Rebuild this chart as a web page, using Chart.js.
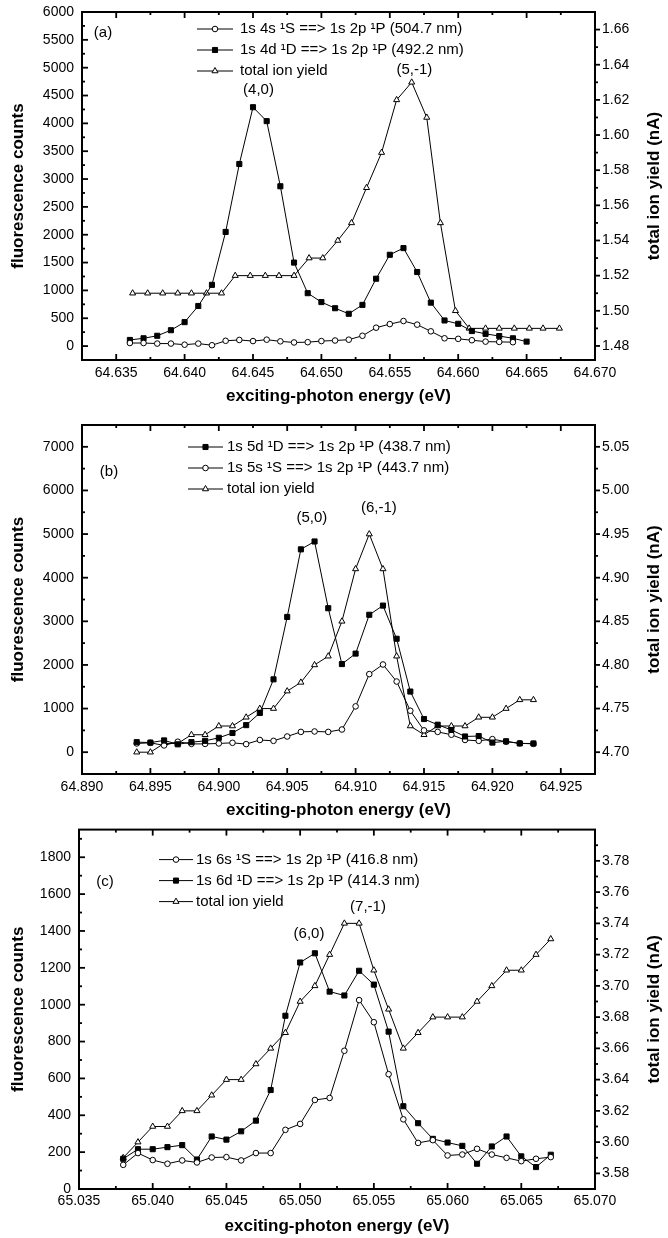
<!DOCTYPE html>
<html>
<head>
<meta charset="utf-8">
<title>Fluorescence counts and total ion yield</title>
<script src="https://cdn.jsdelivr.net/npm/chart.js@4.4.1/dist/chart.umd.min.js"></script>
<style>
  html, body { margin: 0; padding: 0; background: #ffffff; }
  body { width: 668px; height: 1238px; position: relative; overflow: hidden; }
  .panel { position: absolute; left: 0; width: 668px; }
</style>
</head>
<body>
<div class="panel" style="top:0px;height:410px"><canvas id="chartA"></canvas></div>
<div class="panel" style="top:410px;height:415px"><canvas id="chartB"></canvas></div>
<div class="panel" style="top:825px;height:413px"><canvas id="chartC"></canvas></div>
<script>
// ---------- panel (a) ----------
const energyA4s = [64.636, 64.637, 64.638, 64.639, 64.640, 64.641, 64.642, 64.643, 64.644, 64.645,
                   64.646, 64.647, 64.648, 64.649, 64.650, 64.651, 64.652, 64.653, 64.654, 64.655,
                   64.656, 64.657, 64.658, 64.659, 64.660, 64.661, 64.662, 64.663, 64.664];
const counts4s  = [55, 55, 45, 45, 25, 45, 15, 95, 110, 90,
                   115, 85, 65, 70, 90, 100, 115, 185, 330, 395,
                   450, 385, 265, 140, 130, 105, 80, 75, 70];
const energyA4d = [64.636, 64.637, 64.638, 64.639, 64.640, 64.641, 64.642, 64.643, 64.644, 64.645,
                   64.646, 64.647, 64.648, 64.649, 64.650, 64.651, 64.652, 64.653, 64.654, 64.655,
                   64.656, 64.657, 64.658, 64.659, 64.660, 64.661, 64.662, 64.663, 64.664, 64.665];
const counts4d  = [110, 140, 185, 285, 430, 720, 1100, 2050, 3270, 4290,
                   4040, 2870, 1500, 950, 790, 680, 580, 740, 1210, 1640,
                   1760, 1330, 780, 460, 400, 270, 220, 180, 140, 80];
const energyAIon = [64.6362, 64.6373, 64.6384, 64.6395, 64.6405, 64.6416, 64.6427, 64.6437, 64.6448, 64.6459,
                    64.6469, 64.6480, 64.6491, 64.6501, 64.6512, 64.6522, 64.6533, 64.6544, 64.6555, 64.6566,
                    64.6577, 64.6587, 64.6598, 64.6608, 64.6620, 64.6630, 64.6641, 64.6652, 64.6662, 64.6674];
const ionA = [1.51, 1.51, 1.51, 1.51, 1.51, 1.51, 1.51, 1.52, 1.52, 1.52,
              1.52, 1.52, 1.53, 1.53, 1.54, 1.55, 1.57, 1.59, 1.62, 1.63,
              1.61, 1.55, 1.50, 1.49, 1.49, 1.49, 1.49, 1.49, 1.49, 1.49];
const xTicksA  = [64.635, 64.640, 64.645, 64.650, 64.655, 64.660, 64.665, 64.670];
const yTicksA  = [0, 500, 1000, 1500, 2000, 2500, 3000, 3500, 4000, 4500, 5000, 5500, 6000];
const y2TicksA = [1.48, 1.50, 1.52, 1.54, 1.56, 1.58, 1.60, 1.62, 1.64, 1.66];

// ---------- panel (b) ----------
const energyB = [64.894, 64.895, 64.896, 64.897, 64.898, 64.899, 64.900, 64.901, 64.902, 64.903,
                 64.904, 64.905, 64.906, 64.907, 64.908, 64.909, 64.910, 64.911, 64.912, 64.913,
                 64.914, 64.915, 64.916, 64.917, 64.918, 64.919, 64.920, 64.921, 64.922, 64.923];
const counts5d = [230, 220, 270, 180, 230, 260, 330, 440, 620, 900,
                  1670, 3100, 4650, 4830, 3300, 2020, 2260, 3150, 3360, 2600,
                  1390, 760, 630, 510, 360, 370, 220, 250, 200, 200];
const counts5s = [200, 215, 155, 240, 190, 190, 200, 215, 185, 280,
                  260, 360, 465, 475, 465, 520, 1050, 1790, 2010, 1620,
                  950, 500, 465, 400, 280, 260, 300, 240, 205, 190];
const ionB = [4.70, 4.70, 4.71, 4.71, 4.72, 4.72, 4.73, 4.73, 4.74, 4.75,
              4.75, 4.77, 4.78, 4.80, 4.81, 4.85, 4.91, 4.95, 4.91, 4.81,
              4.73, 4.72, 4.73, 4.73, 4.73, 4.74, 4.74, 4.75, 4.76, 4.76];
const xTicksB  = [64.890, 64.895, 64.900, 64.905, 64.910, 64.915, 64.920, 64.925];
const yTicksB  = [0, 1000, 2000, 3000, 4000, 5000, 6000, 7000];
const y2TicksB = [4.70, 4.75, 4.80, 4.85, 4.90, 4.95, 5.00, 5.05];

// ---------- panel (c) ----------
const energyC = [65.038, 65.039, 65.040, 65.041, 65.042, 65.043, 65.044, 65.045, 65.046, 65.047,
                 65.048, 65.049, 65.050, 65.051, 65.052, 65.053, 65.054, 65.055, 65.056, 65.057,
                 65.058, 65.059, 65.060, 65.061, 65.062, 65.063, 65.064, 65.065, 65.066, 65.067];
const counts6s = [131, 195, 157, 137, 155, 144, 171, 173, 155, 195,
                  195, 321, 353, 483, 494, 750, 1025, 905, 623, 378,
                  250, 265, 182, 187, 218, 187, 169, 151, 164, 173];
const counts6d = [164, 216, 216, 227, 238, 160, 285, 268, 313, 371,
                  537, 940, 1229, 1279, 1071, 1050, 1184, 1109, 854, 449,
                  357, 272, 252, 234, 137, 231, 285, 177, 119, 186];
const ionC = [3.59, 3.60, 3.61, 3.61, 3.62, 3.62, 3.63, 3.64, 3.64, 3.65,
              3.66, 3.67, 3.69, 3.70, 3.72, 3.74, 3.74, 3.71, 3.685, 3.66,
              3.67, 3.68, 3.68, 3.68, 3.69, 3.70, 3.71, 3.71, 3.72, 3.73];
const xTicksC  = [65.035, 65.040, 65.045, 65.050, 65.055, 65.060, 65.065, 65.070];
const yTicksC  = [0, 200, 400, 600, 800, 1000, 1200, 1400, 1600, 1800];
const y2TicksC = [3.58, 3.60, 3.62, 3.64, 3.66, 3.68, 3.70, 3.72, 3.74, 3.76, 3.78];

const FONT = "'Liberation Sans', Arial, Helvetica, sans-serif";
Chart.defaults.font.family = FONT;
Chart.defaults.color = '#000';

// marker looks (Origin style)
const openCircle = { style: 'circle', radius: 2.8, fill: '#ffffff' };
const solidSquare = { style: 'rect', radius: 3.6, fill: '#000000' };
const openTriangle = { style: 'triangle', radius: 3.5, fill: '#ffffff' };

// minor ticks sit half way between the labelled ones
function minorTicks(majors, min, max) {
    const half = (majors[1] - majors[0]) / 2;
    const out = [];
    majors.forEach(v => {
        [v - half, v + half].forEach(m => {
            const inside = m > min + half / 20 && m < max - half / 20;
            if (inside && !out.some(o => Math.abs(o - m) < half / 10)) out.push(m);
        });
    });
    return out;
}

// draws the box, inward ticks, legend, peak labels and right title
function framePlugin(p) {
    return {
        id: 'originFrame',
        afterDraw(chart) {
            const { ctx, chartArea: a, scales } = chart;
            const sx = scales.x, sy = scales.y, sy2 = scales.y2;
            const line = (x1, y1, x2, y2) => { ctx.beginPath(); ctx.moveTo(x1, y1); ctx.lineTo(x2, y2); ctx.stroke(); };
            ctx.save();
            ctx.strokeStyle = '#000';
            ctx.fillStyle = '#000';
            ctx.lineWidth = 2;
            ctx.strokeRect(a.left, a.top, a.right - a.left, a.bottom - a.top);

            ctx.lineWidth = 1.8;
            p.xTicks.forEach(v => {
                const px = sx.getPixelForValue(v);
                line(px, a.bottom, px, a.bottom - 6);
                line(px, a.top, px, a.top + 6);
            });
            minorTicks(p.xTicks, sx.min, sx.max).forEach(v => {
                const px = sx.getPixelForValue(v);
                line(px, a.bottom, px, a.bottom - 3);
                line(px, a.top, px, a.top + 3);
            });
            p.yTicks.forEach(v => { const py = sy.getPixelForValue(v); line(a.left, py, a.left + 6, py); });
            minorTicks(p.yTicks, sy.min, sy.max).forEach(v => { const py = sy.getPixelForValue(v); line(a.left, py, a.left + 3, py); });
            p.y2Ticks.forEach(v => { const py = sy2.getPixelForValue(v); line(a.right, py, a.right + 5, py); });
            minorTicks(p.y2Ticks, sy2.min, sy2.max).forEach(v => { const py = sy2.getPixelForValue(v); line(a.right, py, a.right + 3, py); });

            // legend: line with marker, then the label
            ctx.font = '15px ' + FONT;
            ctx.textAlign = 'left';
            ctx.textBaseline = 'middle';
            chart.data.datasets.forEach((d, i) => {
                const y = a.top + p.legend.rows[i];
                const x0 = a.left + p.legend.line[0];
                const x1 = a.left + p.legend.line[1];
                ctx.lineWidth = 1;
                line(x0, y, x1, y);
                ctx.fillStyle = d.pointBackgroundColor;
                Chart.helpers.drawPoint(ctx, { pointStyle: d.pointStyle, radius: d.pointRadius, rotation: 0, borderWidth: 1 }, (x0 + x1) / 2, y);
                ctx.fillStyle = '#000';
                ctx.fillText(d.label, a.left + p.legend.text, y);
            });

            // peak labels, placed in data units
            ctx.font = '15px ' + FONT;
            ctx.textAlign = 'center';
            p.notes.forEach(n => ctx.fillText(n.text, sx.getPixelForValue(n.x), sy.getPixelForValue(n.y)));
            ctx.fillText(p.letter.text, a.left + p.letter.dx, a.top + p.letter.dy);

            // right axis title reads bottom to top
            ctx.translate(a.right + 59, (a.top + a.bottom) / 2);
            ctx.rotate(-Math.PI / 2);
            ctx.font = 'bold 17px ' + FONT;
            ctx.fillText(sy2.options.title.text, 0, 0);
            ctx.restore();
        }
    };
}

function makePanel(id, p) {
    const datasets = p.series.map(s => ({
        label: s.label,
        data: s.x.map((x, i) => ({ x: x, y: s.y[i] })),
        yAxisID: s.axis,
        borderColor: '#000',
        borderWidth: 1,
        pointStyle: s.marker.style,
        pointRadius: s.marker.radius,
        pointHoverRadius: s.marker.radius,
        pointBackgroundColor: s.marker.fill,
        pointBorderColor: '#000',
        pointBorderWidth: 1,
        fill: false,
        tension: 0
    }));
    const hideGrid = { display: false, drawTicks: false };
    const tickFont = { size: 14 };
    const titleFont = { size: 17, weight: 'bold' };
    return new Chart(document.getElementById(id), {
        type: 'line',
        data: { datasets: datasets },
        options: {
            responsive: true,
            maintainAspectRatio: false,
            animation: false,
            devicePixelRatio: 1,
            layout: { padding: { top: p.padTop, left: 0, right: 0, bottom: 0 } },
            plugins: { legend: { display: false }, tooltip: { enabled: false } },
            scales: {
                x: {
                    type: 'linear',
                    position: 'bottom',
                    min: p.xRange[0],
                    max: p.xRange[1],
                    afterBuildTicks: s => { s.ticks = p.xTicks.map(v => ({ value: v })); },
                    afterFit: s => { s.height = p.xHeight; s.paddingLeft = 0; s.paddingRight = 0; },
                    grid: hideGrid,
                    border: { display: false },
                    ticks: { padding: p.labelPad, maxRotation: 0, autoSkip: false, font: tickFont, callback: v => v.toFixed(3) },
                    title: { display: true, text: 'exciting-photon energy (eV)', font: titleFont, padding: { top: 0, bottom: p.titlePad } }
                },
                y: {
                    type: 'linear',
                    position: 'left',
                    min: p.yRange[0],
                    max: p.yRange[1],
                    afterBuildTicks: s => { s.ticks = p.yTicks.map(v => ({ value: v })); },
                    afterFit: s => { s.width = p.leftWidth; s.paddingTop = 0; s.paddingBottom = 0; },
                    grid: hideGrid,
                    border: { display: false },
                    ticks: { padding: 8, font: tickFont, callback: v => String(v) },
                    title: { display: true, text: 'fluorescence counts', font: titleFont, padding: { top: 8, bottom: 0 } }
                },
                y2: {
                    type: 'linear',
                    position: 'right',
                    min: p.y2Range[0],
                    max: p.y2Range[1],
                    afterBuildTicks: s => { s.ticks = p.y2Ticks.map(v => ({ value: v })); },
                    afterFit: s => { s.width = p.rightWidth; s.paddingTop = 0; s.paddingBottom = 0; },
                    grid: hideGrid,
                    border: { display: false },
                    ticks: { padding: 7, font: tickFont, callback: v => v.toFixed(2) },
                    title: { display: false, text: 'total ion yield (nA)' }
                }
            }
        },
        plugins: [framePlugin(p)]
    });
}

makePanel('chartA', {
    series: [
        { label: '1s 4s \u00B9S ==> 1s 2p \u00B9P (504.7 nm)', x: energyA4s, y: counts4s, axis: 'y', marker: openCircle },
        { label: '1s 4d \u00B9D ==> 1s 2p \u00B9P (492.2 nm)', x: energyA4d, y: counts4d, axis: 'y', marker: solidSquare },
        { label: 'total ion yield', x: energyAIon, y: ionA, axis: 'y2', marker: openTriangle }
    ],
    xRange: [64.6325, 64.670], yRange: [-250, 6000], y2Range: [1.472, 1.670],
    xTicks: xTicksA, yTicks: yTicksA, y2Ticks: y2TicksA,
    padTop: 12, xHeight: 50, leftWidth: 82, rightWidth: 73, labelPad: 5, titlePad: 3,
    legend: { line: [115, 151], text: 158, rows: [17, 38, 59] },
    letter: { text: '(a)', dx: 21, dy: 21 },
    notes: [{ text: '(4,0)', x: 64.6454, y: 4600 }, { text: '(5,-1)', x: 64.6568, y: 4960 }]
});

makePanel('chartB', {
    series: [
        { label: '1s 5d \u00B9D ==> 1s 2p \u00B9P (438.7 nm)', x: energyB, y: counts5d, axis: 'y', marker: solidSquare },
        { label: '1s 5s \u00B9S ==> 1s 2p \u00B9P (443.7 nm)', x: energyB, y: counts5s, axis: 'y', marker: openCircle },
        { label: 'total ion yield', x: energyB, y: ionB, axis: 'y2', marker: openTriangle }
    ],
    xRange: [64.890, 64.9275], yRange: [-500, 7500], y2Range: [4.675, 5.075],
    xTicks: xTicksB, yTicks: yTicksB, y2Ticks: y2TicksB,
    padTop: 15, xHeight: 51, leftWidth: 82, rightWidth: 73, labelPad: 5, titlePad: 4,
    legend: { line: [106, 141], text: 145, rows: [22, 43, 64] },
    letter: { text: '(b)', dx: 27, dy: 47 },
    notes: [{ text: '(5,0)', x: 64.9068, y: 5360 }, { text: '(6,-1)', x: 64.9117, y: 5590 }]
});

makePanel('chartC', {
    series: [
        { label: '1s 6s \u00B9S ==> 1s 2p \u00B9P (416.8 nm)', x: energyC, y: counts6s, axis: 'y', marker: openCircle },
        { label: '1s 6d \u00B9D ==> 1s 2p \u00B9P (414.3 nm)', x: energyC, y: counts6d, axis: 'y', marker: solidSquare },
        { label: 'total ion yield', x: energyC, y: ionC, axis: 'y2', marker: openTriangle }
    ],
    xRange: [65.035, 65.070], yRange: [0, 1950], y2Range: [3.57, 3.80],
    xTicks: xTicksC, yTicks: yTicksC, y2Ticks: y2TicksC,
    padTop: 3, xHeight: 49, leftWidth: 79, rightWidth: 73, labelPad: 4, titlePad: 1,
    legend: { line: [80, 114], text: 117, rows: [30, 51, 72] },
    letter: { text: '(c)', dx: 26, dy: 52 },
    notes: [{ text: '(6,0)', x: 65.0506, y: 1382 }, { text: '(7,-1)', x: 65.0546, y: 1533 }]
});
</script>
</body>
</html>
